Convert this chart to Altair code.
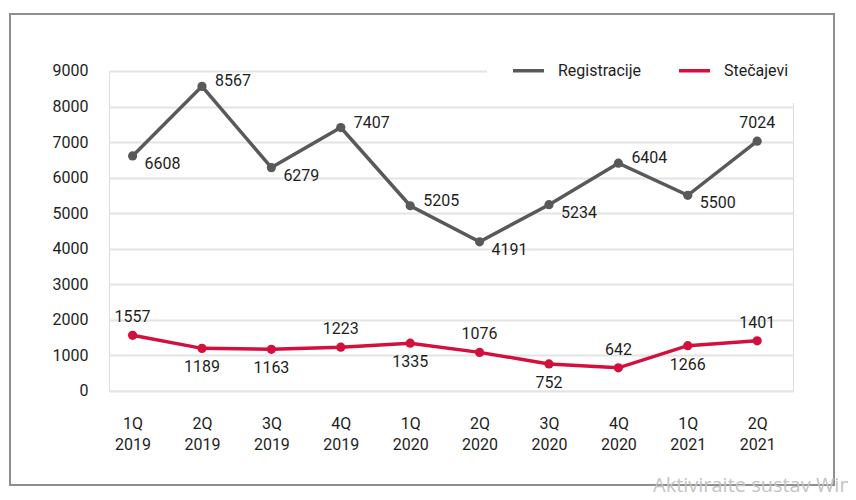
import altair as alt
import pandas as pd

quarters = ["1Q 2019", "2Q 2019", "3Q 2019", "4Q 2019", "1Q 2020",
            "2Q 2020", "3Q 2020", "4Q 2020", "1Q 2021", "2Q 2021"]
registracije = [6608, 8567, 6279, 7407, 5205, 4191, 5234, 6404, 5500, 7024]
stecajevi = [1557, 1189, 1163, 1223, 1335, 1076, 752, 642, 1266, 1401]
reg_label_side = ["right-below", "right-above", "right-below", "right-above", "right-above",
                  "right-below", "right-below", "right-above", "right-below", "above"]
ste_label_side = ["above", "below", "below", "above", "below",
                  "above", "below", "above", "below", "above"]
series_names = ["Registracije", "Stečajevi"]
series_colors = ["#595959", "#d3103c"]

rows = []
for q, v, s in zip(quarters, registracije, reg_label_side):
    rows.append({"quarter": q, "series": "Registracije", "value": v, "side": s})
for q, v, s in zip(quarters, stecajevi, ste_label_side):
    rows.append({"quarter": q, "series": "Stečajevi", "value": v, "side": s})
df = pd.DataFrame(rows)

FONT = "Roboto"
TXT = "#1e1e1e"

x_enc = alt.X("quarter:N", sort=quarters,
              scale=alt.Scale(type="point", padding=0.428, align=0.397),
              axis=alt.Axis(title=None, labelAngle=0, domain=False, ticks=False, grid=False,
                            labelExpr="split(datum.label, ' ')", labelPadding=25,
                            labelFontSize=16, labelFont=FONT, labelColor=TXT,
                            labelLineHeight=21, labelBaseline="top"))
y_enc = alt.Y("value:Q", scale=alt.Scale(domain=[0, 9000], nice=False),
              axis=alt.Axis(title=None, values=list(range(0, 9001, 1000)), domain=False,
                            ticks=False, grid=True, gridColor="#e4e4e4", gridWidth=2,
                            format="d", labelPadding=21, labelFontSize=16, labelFont=FONT,
                            labelColor=TXT))
color_scale = alt.Scale(domain=series_names, range=series_colors)

base = alt.Chart(df)

lines = base.mark_line(strokeWidth=3.5).encode(
    x=x_enc, y=y_enc,
    color=alt.Color("series:N", scale=color_scale,
                    legend=alt.Legend(title=None, orient="none", direction="horizontal",
                                      legendX=378, legendY=-42, padding=24,
                                      fillColor="white", symbolType="stroke",
                                      symbolSize=960, symbolStrokeWidth=3.5,
                                      labelFontSize=16, labelFont=FONT, labelColor=TXT,
                                      labelOffset=12, columnPadding=30)),
)
points = base.mark_circle(size=85, opacity=1).encode(
    x=x_enc, y=y_enc,
    color=alt.Color("series:N", scale=color_scale, legend=None),
)

def labels(side, align, dx, dy):
    return base.transform_filter(alt.datum.side == side).mark_text(
        align=align, baseline="middle", dx=dx, dy=dy, fontSize=16, font=FONT, color=TXT
    ).encode(x=x_enc, y=y_enc, text=alt.Text("value:Q"))

frame = alt.Chart(alt.Data(values=[{}])).mark_rect(
    fillOpacity=0, stroke="#8f8f8f", strokeWidth=2
).encode(x=alt.value(-99), x2=alt.value(725), y=alt.value(-57), y2=alt.value(414))

watermark = alt.Chart(alt.Data(values=[{}])).mark_text(
    text="Aktivirajte sustav Windows", align="left", baseline="top",
    fontSize=20, font="Open Sans", color="#c4c4c4"
).encode(x=alt.value(544), y=alt.value(405))

chart = alt.layer(
    lines, points,
    labels("right-below", "left", 12, 8),
    labels("right-above", "left", 13, -5),
    labels("above", "center", 0, -18),
    labels("below", "center", 0, 19),
    frame, watermark,
).properties(
    width=684, height=319.6,
    autosize=alt.AutoSizeParams(type="none"),
    padding={"left": 101, "top": 63, "right": 55, "bottom": 101},
).configure_view(strokeWidth=0).configure(background="white")

chart.save("out.html", embed_options={"renderer": "svg", "actions": False})
